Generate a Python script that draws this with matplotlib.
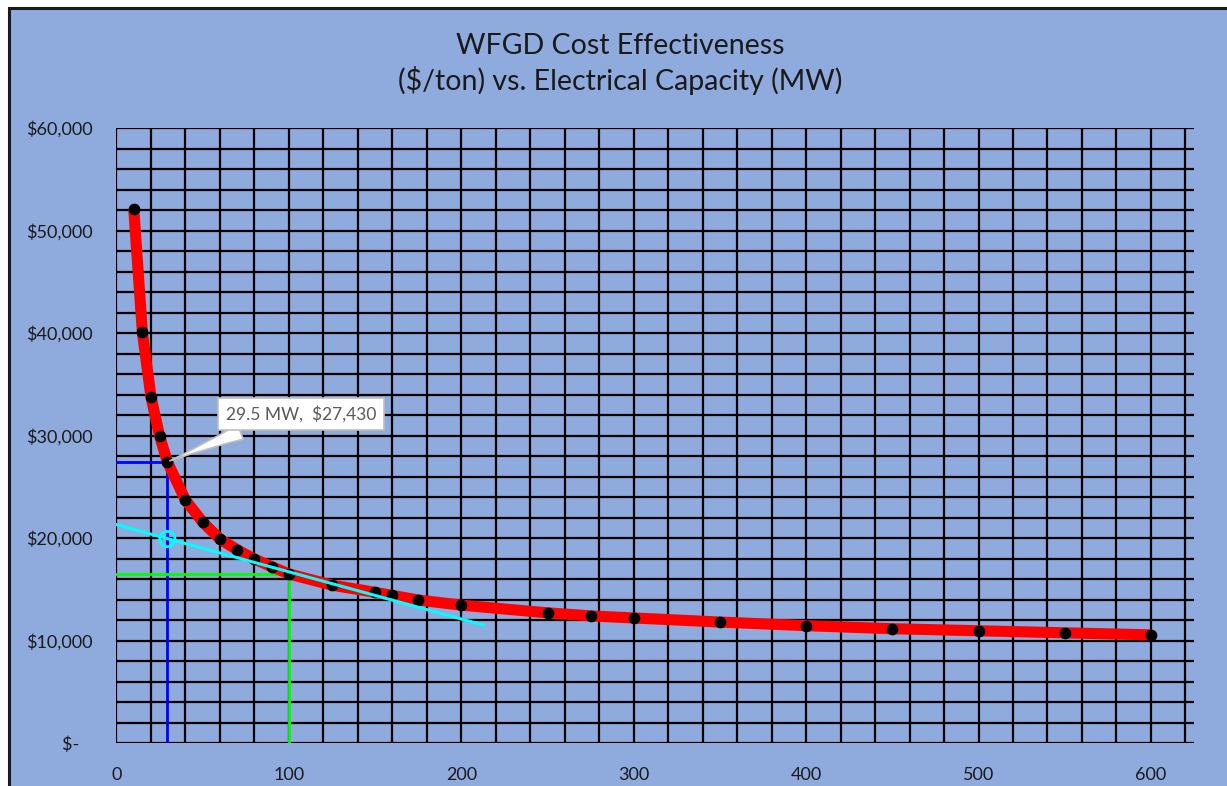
"""
plot.py

WFGD cost effectiveness ($/ton) vs electrical capacity (MW).
"""

import matplotlib
matplotlib.use("Agg")
import matplotlib.pyplot as plt
from matplotlib.patches import Rectangle

plt.rcParams['font.family'] = ['Lato', 'DejaVu Sans']

# data
capacity_mw = [10, 15, 20, 25, 29.5, 40, 50, 60, 70, 80, 90, 100, 125, 150, 160, 175,
               200, 250, 275, 300, 350, 400, 450, 500, 550, 600]
cost_per_ton = [52100, 40100, 33750, 29950, 27430, 23700, 21550, 19900, 18850, 17950,
                17200, 16500, 15400, 14700, 14400, 13950, 13450, 12700, 12400, 12200,
                11800, 11450, 11150, 10950, 10750, 10550]

# marked point (blue) and reference point (green)
marked_x, marked_y = 29.5, 27430
ref_x, ref_y = 100, 16500

# tangent line (cyan)
tangent_x = [0, 213]
tangent_y = [21300, 11500]
tangent_mark_x, tangent_mark_y = 29.5, 19900

x_ticks = [0, 100, 200, 300, 400, 500, 600]
y_ticks = [0, 10000, 20000, 30000, 40000, 50000, 60000]
y_tick_labels = ['$-   ', '$10,000', '$20,000', '$30,000', '$40,000', '$50,000', '$60,000']

BG = '#8FAADC'

fig = plt.figure(figsize=(12.27, 7.86), dpi=100)
fig.patch.set_facecolor('white')
# chart area with dark border (cut off at right and bottom)
fig.patches.append(Rectangle((9 / 1227, -0.01), 1.02, 1 - 8 / 786 + 0.01, transform=fig.transFigure,
                             facecolor=BG, edgecolor='#1a1a1a', linewidth=2.2, zorder=-5))

ax = fig.add_axes([116.5 / 1227, 1 - 743 / 786, (1194 - 116.5) / 1227, (743 - 128) / 786])
ax.set_facecolor(BG)
ax.patch.set_alpha(0)

ax.set_xlim(0, 625)
ax.set_ylim(0, 60000)

# grid: every 20 MW and every $2,000
for gx in range(0, 621, 20):
    ax.plot([gx, gx], [0, 60000], color='black', linewidth=1.6, zorder=1, solid_capstyle='butt')
for gy in range(0, 60001, 2000):
    ax.plot([0, 625], [gy, gy], color='black', linewidth=1.6, zorder=1, solid_capstyle='butt')

for s in ax.spines.values():
    s.set_visible(False)

ax.set_xticks(x_ticks)
ax.set_yticks(y_ticks)
ax.set_yticklabels(y_tick_labels)
ax.tick_params(length=0, labelsize=13, colors='#1a1a1a')
ax.tick_params(axis='y', pad=17)
ax.tick_params(axis='x', pad=17)

# guide lines
ax.plot([0, marked_x], [marked_y, marked_y], color='#0000FF', linewidth=2, zorder=3)
ax.plot([marked_x, marked_x], [0, marked_y], color='#0000FF', linewidth=2, zorder=3)
ax.plot([0, ref_x], [ref_y, ref_y], color='#00FF00', linewidth=2, zorder=3)
ax.plot([ref_x, ref_x], [0, ref_y], color='#00FF00', linewidth=2, zorder=3)

# curve
ax.plot(capacity_mw, cost_per_ton, color='#FF0000', linewidth=8, zorder=4, solid_capstyle='butt')
ax.scatter(capacity_mw, cost_per_ton, s=55, color='black', zorder=5)

# tangent
ax.plot(tangent_x, tangent_y, color='#00FFFF', linewidth=2.2, zorder=6)
ax.scatter([tangent_mark_x], [tangent_mark_y], s=120, facecolor='none', edgecolor='#00FFFF',
           linewidth=2, zorder=7)

ax.annotate('29.5 MW,  $27,430', xy=(marked_x, marked_y), xytext=(107, 32100),
            ha='center', va='center', fontsize=12.5, color='#595959', zorder=8,
            bbox=dict(boxstyle='square,pad=0.45', fc='white', ec='#bfbfbf', lw=1.2),
            arrowprops=dict(arrowstyle='wedge,tail_width=0.9,shrink_factor=0.4', fc='white',
                            ec='#bfbfbf', lw=1.2, relpos=(0.25, 0.0)))

fig.text(620 / 1227, 1 - 64 / 786, 'WFGD Cost Effectiveness\n($/ton) vs. Electrical Capacity (MW)',
         ha='center', va='center', fontsize=20.5, color='#1a1a1a', linespacing=1.3)

fig.savefig('out.png', dpi=100, facecolor=fig.get_facecolor())
